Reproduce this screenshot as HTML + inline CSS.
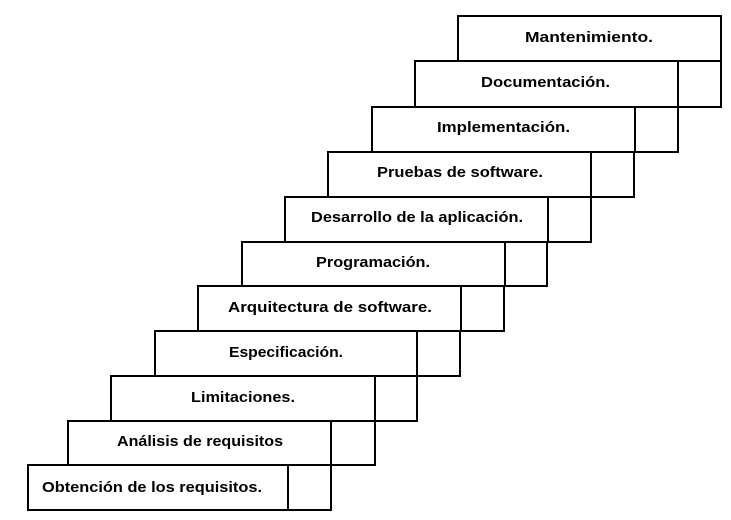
<!DOCTYPE html>
<html><head><meta charset="utf-8"><style>html,body{margin:0;padding:0;background:#fff}svg{display:block}</style></head>
<body>
<svg width="731" height="520" viewBox="0 0 731 520" xmlns="http://www.w3.org/2000/svg" font-family="Liberation Sans, sans-serif" font-weight="bold" font-size="15" fill="#000">
<g fill="none" stroke="#000" stroke-width="2">
<rect x="28" y="465" width="303" height="45"/><line x1="288" y1="465" x2="288" y2="510"/>
<rect x="68" y="421" width="307" height="44"/><line x1="331" y1="421" x2="331" y2="465"/>
<rect x="111" y="376" width="306" height="45"/><line x1="375" y1="376" x2="375" y2="421"/>
<rect x="155" y="331" width="305" height="45"/><line x1="417" y1="331" x2="417" y2="376"/>
<rect x="198" y="286" width="306" height="45"/><line x1="461" y1="286" x2="461" y2="331"/>
<rect x="242" y="242" width="305" height="44"/><line x1="505" y1="242" x2="505" y2="286"/>
<rect x="285" y="197" width="306" height="45"/><line x1="548" y1="197" x2="548" y2="242"/>
<rect x="328" y="152" width="306" height="45"/><line x1="591" y1="152" x2="591" y2="197"/>
<rect x="372" y="107" width="306" height="45"/><line x1="635" y1="107" x2="635" y2="152"/>
<rect x="415" y="61" width="306" height="46"/><line x1="678" y1="61" x2="678" y2="107"/>
<rect x="458" y="16" width="263" height="45"/>
</g>
<text x="42" y="492" textLength="220" lengthAdjust="spacingAndGlyphs">Obtención de los requisitos.</text>
<text x="117" y="446" textLength="166" lengthAdjust="spacingAndGlyphs">Análisis de requisitos</text>
<text x="191" y="402" textLength="104" lengthAdjust="spacingAndGlyphs">Limitaciones.</text>
<text x="229" y="357" textLength="114" lengthAdjust="spacingAndGlyphs">Especificación.</text>
<text x="228" y="312" textLength="204" lengthAdjust="spacingAndGlyphs">Arquitectura de software.</text>
<text x="316" y="267" textLength="114" lengthAdjust="spacingAndGlyphs">Programación.</text>
<text x="311" y="222" textLength="212" lengthAdjust="spacingAndGlyphs">Desarrollo de la aplicación.</text>
<text x="377" y="177" textLength="166" lengthAdjust="spacingAndGlyphs">Pruebas de software.</text>
<text x="437" y="132" textLength="133" lengthAdjust="spacingAndGlyphs">Implementación.</text>
<text x="481" y="87" textLength="129" lengthAdjust="spacingAndGlyphs">Documentación.</text>
<text x="525" y="42" textLength="128" lengthAdjust="spacingAndGlyphs">Mantenimiento.</text>
</svg>
</body></html>
